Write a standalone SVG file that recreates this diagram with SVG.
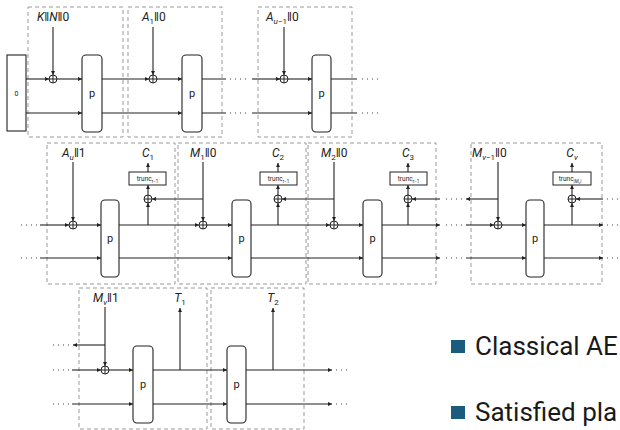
<svg xmlns="http://www.w3.org/2000/svg" width="620" height="430" viewBox="0 0 620 430">
<style>
.w{stroke:#222;stroke-width:1.1;fill:none}
.a{marker-end:url(#ah)}
.db{fill:none;stroke:#9a9a9a;stroke-width:1;stroke-dasharray:4 3}
.pb{fill:#fff;stroke:#222;stroke-width:1.1}
.x{fill:#fff;stroke:#222;stroke-width:1}
.dots{stroke:#444;stroke-width:1.2;stroke-dasharray:1 4;fill:none}
text{font-family:Roboto,"Liberation Sans",sans-serif;fill:#222}
.lb{font-size:12px}
.it{font-style:italic}
.pt{font-size:11px;text-anchor:middle}
.tr{font-size:6.5px;text-anchor:middle}
.lg{font-size:26px;fill:#1a1a1a}
</style>
<defs>
<marker id="ah" viewBox="0 0 6 6" refX="6" refY="3" markerWidth="4" markerHeight="4" orient="auto" markerUnits="userSpaceOnUse"><path d="M0,0 L6,3 L0,6 z" fill="#222"/></marker>
<g id="xor"><circle r="4" class="x"/><path d="M-4,0H4M0,-4V4" stroke="#222" stroke-width="1"/></g>
</defs>

<!-- dashed frames -->
<g id="frames">
<rect class="db" x="28" y="7" width="95" height="130"/>
<rect class="db" x="128" y="7" width="94" height="130"/>
<rect class="db" x="258" y="7" width="94" height="130"/>
<rect class="db" x="47" y="143" width="128" height="141"/>
<rect class="db" x="178" y="143" width="128" height="141"/>
<rect class="db" x="308" y="143" width="128" height="141"/>
<rect class="db" x="471" y="143" width="131" height="141"/>
<rect class="db" x="79" y="288" width="128" height="141"/>
<rect class="db" x="211" y="288" width="93" height="141"/>
</g>

<g id="connectors">
<!-- top row -->
<path class="w a" d="M26,79H49"/><path class="w a" d="M57,79H82"/><path class="w a" d="M26,113H82"/>
<path class="w a" d="M53,27V75"/>
<path class="w a" d="M102,79H149"/><path class="w a" d="M157,79H182"/><path class="w a" d="M102,113H182"/>
<path class="w a" d="M153,27V75"/>
<path class="w" d="M202,79H226M202,113H226"/>
<path class="dots" d="M230,79H247M230,113H247"/>
<path class="w a" d="M252,79H280"/><path class="w a" d="M288,79H312"/><path class="w a" d="M252,113H312"/>
<path class="w a" d="M284,27V75"/>
<path class="w" d="M331,79H357M331,113H357"/>
<path class="dots" d="M362,79H379M362,113H379"/>
<!-- middle row -->
<path class="dots" d="M21,225H37M21,258H37"/>
<path class="w a" d="M40,225H69"/><path class="w a" d="M77,225H101"/><path class="w a" d="M40,258H101"/>
<path class="w a" d="M73,162V221"/>
<path class="w a" d="M119,225H199"/><path class="w a" d="M119,258H232"/>
<path class="w a" d="M148,225V203"/><path class="w a" d="M148,195V185"/><path class="w a" d="M148,172V163"/>
<path class="w a" d="M203,162V221"/><path class="w a" d="M203,199H152"/>
<path class="w a" d="M207,225H232"/>
<path class="w a" d="M251,225H330"/><path class="w a" d="M251,258H363"/>
<path class="w a" d="M278,225V203"/><path class="w a" d="M278,195V185"/><path class="w a" d="M278,172V163"/>
<path class="w a" d="M334,162V221"/><path class="w a" d="M334,199H282"/>
<path class="w a" d="M338,225H363"/>
<path class="w a" d="M382,225H440"/><path class="w a" d="M382,258H440"/>
<path class="w a" d="M408,225V203"/><path class="w a" d="M408,195V185"/><path class="w a" d="M408,172V163"/>
<path class="w a" d="M440,199H412"/>
<path class="dots" d="M446,199H463M446,225H463M446,258H463"/>
<path class="w a" d="M498,199H466"/>
<path class="w a" d="M466,225H494"/><path class="w a" d="M502,225H526"/><path class="w a" d="M466,258H526"/>
<path class="w a" d="M498,162V221"/>
<path class="w a" d="M544,225H603"/><path class="w a" d="M544,258H603"/>
<path class="w a" d="M572,225V203"/><path class="w a" d="M572,195V185"/><path class="w a" d="M572,172V163"/>
<path class="w a" d="M603,199H576"/>
<path class="dots" d="M607,199H620M607,225H620M607,258H620"/>
<!-- bottom row -->
<path class="dots" d="M53,345H69M53,370H69M53,404H69"/>
<path class="w a" d="M105,345H73"/>
<path class="w a" d="M72,370H101"/><path class="w a" d="M109,370H133"/><path class="w a" d="M72,404H133"/>
<path class="w a" d="M105,307V366"/>
<path class="w a" d="M153,370H227"/><path class="w a" d="M153,404H227"/>
<path class="w a" d="M180,370V308"/>
<path class="w a" d="M246,370H332"/><path class="w a" d="M246,404H332"/>
<path class="w a" d="M273,370V308"/>
<path class="dots" d="M336,370H350M336,404H350"/>
</g>

<!-- top row nodes -->
<g id="init"><rect x="7" y="55" width="19" height="76" fill="#fff" stroke="#222" stroke-width="1.1"/><text x="16.5" y="96" font-size="7" text-anchor="middle">0</text></g>
<g id="xor1"><use href="#xor" x="53" y="79"/></g>
<g id="lbl1"><text class="lb" x="37" y="21"><tspan class="it">K</tspan>‖<tspan class="it">N</tspan>‖0</text></g>
<g id="p1"><rect class="pb" x="82" y="55" width="20" height="77" rx="4"/><text class="pt" x="92" y="97">p</text></g>
<g id="xor2"><use href="#xor" x="153" y="79"/></g>
<g id="lbl2"><text class="lb" x="142" y="21"><tspan class="it">A</tspan><tspan font-size="8" dy="2.5">1</tspan><tspan dy="-2.5">‖0</tspan></text></g>
<g id="p2"><rect class="pb" x="182" y="55" width="20" height="77" rx="4"/><text class="pt" x="192" y="97">p</text></g>
<g id="xor3"><use href="#xor" x="284" y="79"/></g>
<g id="lbl3"><text class="lb" x="266" y="21"><tspan class="it">A</tspan><tspan font-size="8" dy="2.5"><tspan class="it">u</tspan>−1</tspan><tspan dy="-2.5">‖0</tspan></text></g>
<g id="p3"><rect class="pb" x="312" y="55" width="19" height="77" rx="4"/><text class="pt" x="321.5" y="97">p</text></g>

<!-- middle row nodes -->
<g id="xorAu"><use href="#xor" x="73" y="225"/></g>
<g id="lblAu"><text class="lb" x="62" y="157"><tspan class="it">A</tspan><tspan font-size="8" dy="2.5" class="it">u</tspan><tspan dy="-2.5">‖1</tspan></text></g>
<g id="p4"><rect class="pb" x="101" y="200" width="18" height="77" rx="4"/><text class="pt" x="110" y="242">p</text></g>
<g id="xorC1"><use href="#xor" x="148" y="199"/></g>
<g id="tr1"><rect x="129" y="172" width="37" height="13" fill="#fff" stroke="#222" stroke-width="1"/><text class="tr" x="147.5" y="181">trunc<tspan font-size="4.5" dy="1.5">r−1</tspan></text></g>
<g id="lblC1"><text class="lb" x="148" y="157" text-anchor="middle"><tspan class="it">C</tspan><tspan font-size="8" dy="2.5">1</tspan></text></g>
<g id="xorM1"><use href="#xor" x="203" y="225"/></g>
<g id="lblM1"><text class="lb" x="190" y="157"><tspan class="it">M</tspan><tspan font-size="8" dy="2.5">1</tspan><tspan dy="-2.5">‖0</tspan></text></g>
<g id="p5"><rect class="pb" x="232" y="200" width="19" height="77" rx="4"/><text class="pt" x="241.5" y="242">p</text></g>
<g id="xorC2"><use href="#xor" x="278" y="199"/></g>
<g id="tr2"><rect x="260" y="172" width="37" height="13" fill="#fff" stroke="#222" stroke-width="1"/><text class="tr" x="278.5" y="181">trunc<tspan font-size="4.5" dy="1.5">r−1</tspan></text></g>
<g id="lblC2"><text class="lb" x="278" y="157" text-anchor="middle"><tspan class="it">C</tspan><tspan font-size="8" dy="2.5">2</tspan></text></g>
<g id="xorM2"><use href="#xor" x="334" y="225"/></g>
<g id="lblM2"><text class="lb" x="321" y="157"><tspan class="it">M</tspan><tspan font-size="8" dy="2.5">2</tspan><tspan dy="-2.5">‖0</tspan></text></g>
<g id="p6"><rect class="pb" x="363" y="200" width="19" height="77" rx="4"/><text class="pt" x="372.5" y="242">p</text></g>
<g id="xorC3"><use href="#xor" x="408" y="199"/></g>
<g id="tr3"><rect x="390" y="172" width="37" height="13" fill="#fff" stroke="#222" stroke-width="1"/><text class="tr" x="408.5" y="181">trunc<tspan font-size="4.5" dy="1.5">r−1</tspan></text></g>
<g id="lblC3"><text class="lb" x="408" y="157" text-anchor="middle"><tspan class="it">C</tspan><tspan font-size="8" dy="2.5">3</tspan></text></g>
<g id="xorMv1"><use href="#xor" x="498" y="225"/></g>
<g id="lblMv1"><text class="lb" x="472" y="157"><tspan class="it">M</tspan><tspan font-size="8" dy="2.5"><tspan class="it">v</tspan>−1</tspan><tspan dy="-2.5">‖0</tspan></text></g>
<g id="p7"><rect class="pb" x="526" y="200" width="18" height="77" rx="4"/><text class="pt" x="535" y="242">p</text></g>
<g id="xorCv"><use href="#xor" x="572" y="199"/></g>
<g id="tr4"><rect x="553" y="172" width="38" height="13" fill="#fff" stroke="#222" stroke-width="1"/><text class="tr" x="570" y="181">trunc<tspan font-size="4.5" dy="1.5">|<tspan class="it">M</tspan><tspan font-size="3.5" dy="1" class="it">v</tspan><tspan dy="-1">|</tspan></tspan></text></g>
<g id="lblCv"><text class="lb" x="572" y="157" text-anchor="middle"><tspan class="it">C</tspan><tspan font-size="8" dy="2.5" class="it">v</tspan></text></g>

<!-- bottom row nodes -->
<g id="xorMv"><use href="#xor" x="105" y="370"/></g>
<g id="lblMv"><text class="lb" x="93" y="302"><tspan class="it">M</tspan><tspan font-size="8" dy="2.5" class="it">v</tspan><tspan dy="-2.5">‖1</tspan></text></g>
<g id="p8"><rect class="pb" x="133" y="346" width="20" height="77" rx="4"/><text class="pt" x="143" y="388">p</text></g>
<g id="lblT1"><text class="lb" x="180" y="302" text-anchor="middle"><tspan class="it">T</tspan><tspan font-size="8" dy="2.5">1</tspan></text></g>
<g id="p9"><rect class="pb" x="227" y="346" width="19" height="77" rx="4"/><text class="pt" x="236.5" y="388">p</text></g>
<g id="lblT2"><text class="lb" x="273" y="302" text-anchor="middle"><tspan class="it">T</tspan><tspan font-size="8" dy="2.5">2</tspan></text></g>

<!-- legend -->
<g id="legend1"><rect x="451" y="340" width="14" height="13" fill="#1b5b7d"/><text class="lg" x="475" y="355">Classical AE</text></g>
<g id="legend2"><rect x="451" y="406" width="14" height="13" fill="#1b5b7d"/><text class="lg" x="475" y="421">Satisfied pla</text></g>
</svg>
